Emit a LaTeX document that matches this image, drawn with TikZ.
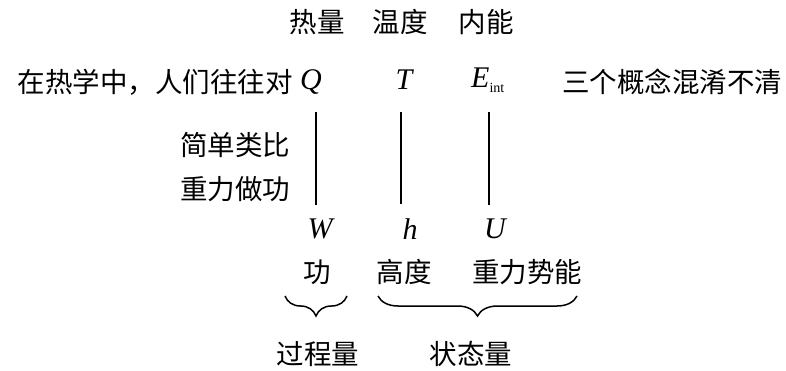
\documentclass[tikz,border=0pt]{standalone}
\usepackage{fontspec}
\setmainfont{Liberation Serif}
\newfontfamily\cjk{Noto Sans CJK SC}
\usetikzlibrary{decorations.pathreplacing}
\tikzset{
  zh/.style={font=\cjk\fontsize{27.5}{27.5}\selectfont, inner sep=0pt},
  sym/.style={font=\fontsize{30}{30}\selectfont\itshape, inner sep=0pt},
  link/.style={line width=1.3pt},
  bracebox/.style={line width=1.5pt, decorate, decoration={brace, amplitude=20pt, aspect=0.5}}
}
\begin{document}
\begin{tikzpicture}[x=1pt,y=1pt]
\useasboundingbox (0,0) rectangle (786,-371);
% top row
\node[zh] (rl) at (317,-22) {热量};
\node[zh] (wd) at (400,-22) {温度};
\node[zh] (nn) at (486,-22) {内能};
% second row
\node[zh, anchor=east] (pre) at (293,-82) {在热学中，人们往往对};
\node[sym] (Q) at (311,-82) {Q};
\node[sym] (T) at (404,-80) {T};
\node[sym, anchor=west] (E) at (471,-80) {E\raisebox{-5pt}{\upshape\fontsize{14}{14}\selectfont int}};
\node[zh, anchor=west] (post) at (562,-82) {三个概念混淆不清};
% side labels
\node[zh] (jd) at (235,-145) {简单类比};
\node[zh] (zl) at (235,-189) {重力做功};
% bottom symbols
\node[sym] (W) at (320,-229) {W};
\node[sym] (h) at (410,-229) {h};
\node[sym] (U) at (495,-229) {U};
% meanings
\node[zh] (gong) at (317,-272) {功};
\node[zh] (gd) at (404,-272) {高度};
\node[zh] (zs) at (527,-272) {重力势能};
% category labels
\node[zh] (gcl) at (318,-354) {过程量};
\node[zh] (ztl) at (471,-354) {状态量};
% connector ends
\coordinate (a1) at (316,-112); \coordinate (b1) at (316,-205);
\coordinate (a2) at (401,-112); \coordinate (b2) at (401,-204);
\coordinate (a3) at (489,-112); \coordinate (b3) at (489,-205);
\draw[link] (a1) -- (b1);
\draw[link] (a2) -- (b2);
\draw[link] (a3) -- (b3);
% braces
\coordinate (br1l) at (285,-296); \coordinate (br1r) at (347,-296);
\coordinate (br2l) at (378,-296); \coordinate (br2r) at (577,-296);
\draw[bracebox] (br1r) -- (br1l);
\draw[bracebox] (br2r) -- (br2l);
\end{tikzpicture}
\end{document}
